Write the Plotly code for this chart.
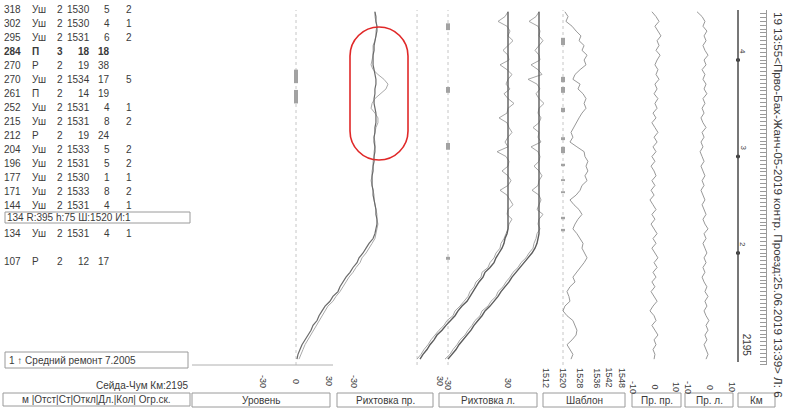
import plotly.graph_objects as go

W, H = 790, 408

# ---------------- data (distance along km 2195, metres) ----------------
dist = [350, 345, 340, 335, 330, 325, 320, 315, 310, 305,
        300, 295, 290, 285, 280, 275, 270, 265, 260, 255,
        250, 245, 240, 235, 230, 225, 220, 215, 210, 205,
        200, 195, 190, 185, 180, 175, 170, 165, 160, 155,
        150, 145, 140, 135, 130, 125, 120, 115, 110, 105,
        100, 95, 90, 85, 80, 75, 70, 65, 60, 55,
        50, 45, 40, 35, 30, 25, 20, 15, 10, 5,
        0, -5, -10]

# Рихтовка пр. (mm): main pass and repeated pass
riht_pr_main = [-15.4, -14.7, -14.7, -14.0, -14.0, -14.7, -15.4, -16.0, -16.0, -16.7,
                -16.7, -16.7, -16.0, -15.4, -14.7, -14.7, -15.4, -15.4, -16.0, -16.0,
                -15.4, -14.7, -14.7, -14.7, -15.4, -15.4, -16.0, -16.0, -15.4, -15.4,
                -16.0, -16.0, -16.7, -16.7, -17.4, -17.4, -17.4, -16.7, -16.7, -16.0,
                -15.4, -14.7, -14.7, -14.0, -14.0, -14.7, -15.4, -16.7, -19.5, -21.6,
                -23.7, -26.5, -27.9, -30.7, -32.8, -35.6, -37.7, -39.8, -41.2, -44.7,
                -46.8, -50.2, -52.3, -54.4, -55.8, -58.6, -60.0, -62.1, -64.2, -66.3,
                -67.7, -69.1, -69.8]
riht_pr_rep = [-15.4, -15.4, -14.7, -14.0, -14.7, -14.7, -15.4, -16.7, -16.7, -16.7,
               -17.4, -18.1, -16.7, -13.3, -9.1, -6.3, -7.7, -11.9, -15.4, -17.4,
               -18.1, -15.4, -13.3, -13.3, -14.7, -15.4, -16.0, -15.4, -15.4, -16.0,
               -16.0, -16.7, -16.7, -17.4, -17.4, -18.1, -17.4, -16.7, -16.0, -16.0,
               -15.4, -14.7, -14.0, -14.0, -13.3, -14.0, -14.7, -15.4, -17.4, -19.5,
               -21.6, -24.4, -25.8, -28.6, -30.7, -33.5, -35.6, -37.7, -39.8, -42.6,
               -44.7, -48.2, -50.2, -52.3, -54.4, -56.5, -57.9, -60.0, -62.1, -64.2,
               -65.6, -67.0, -68.4]

# Рихтовка л. (mm): two lines, each main + raw
riht_l1_main = [30, 30, 30, 30, 30, 30, 30, 30, 30, 30,
                30, 30, 30, 30, 30, 30, 30, 30, 30, 30,
                30, 30, 30, 30, 30, 30, 30, 30, 30, 30,
                30, 30, 30, 30, 30, 30, 30, 30, 30, 30,
                30, 30, 30, 30, 30, 30, 29, 27, 26, 24,
                21, 18, 16, 12, 7, 5, 1, -2, -5, -8,
                -11, -16, -20, -23, -28, -32, -36, -41, -44, -48,
                -51, -55, -58]
riht_l1_rep = [30, 27, 20, 29, 32, 30, 35, 30, 25, 30,
               31, 22, 29, 34, 30, 28, 32, 26, 30, 36,
               30, 29, 21, 29, 31, 34, 30, 27, 30, 19,
               28, 31, 30, 24, 30, 33, 30, 22, 29, 32,
               35, 30, 29, 34, 31, 30, 28, 26, 23, 22,
               18, 16, 12, 10, 4, 3, -2, -4, -8, -10,
               -14, -18, -23, -25, -31, -34, -39, -43, -47, -50,
               -54, -57, -61]
riht_l2_main = [61, 61, 61, 61, 61, 61, 61, 61, 61, 61,
                61, 61, 61, 61, 61, 61, 61, 61, 61, 61,
                61, 61, 61, 61, 61, 61, 61, 61, 61, 61,
                61, 61, 61, 61, 61, 61, 61, 61, 61, 61,
                61, 61, 61, 61, 61, 61, 61, 60, 59, 57,
                54, 50, 46, 42, 38, 34, 31, 27, 23, 20,
                16, 12, 7, 4, 0, -4, -7, -11, -15, -19,
                -22, -26, -30]
riht_l2_rep = [61, 58, 51, 60, 62, 61, 65, 61, 57, 61,
               62, 53, 60, 64, 50, 59, 62, 58, 61, 66,
               61, 60, 63, 61, 55, 61, 60, 63, 53, 60,
               62, 61, 56, 61, 64, 61, 60, 54, 61, 63,
               61, 59, 65, 61, 60, 62, 59, 58, 56, 55,
               51, 48, 43, 40, 35, 32, 28, 25, 20, 18,
               13, 10, 4, 2, -3, -6, -10, -13, -18, -21,
               -25, -28, -33]

# Шаблон (mm)
shablon = [1520.9, 1522.4, 1521.4, 1524.3, 1526.2, 1528.5, 1527.6, 1530.0, 1529.0, 1531.4,
           1530.0, 1530.9, 1528.1, 1525.7, 1524.7, 1528.1, 1527.1, 1529.5, 1530.9, 1530.0,
           1530.9, 1529.0, 1527.6, 1526.2, 1525.2, 1523.8, 1524.7, 1523.3, 1526.6, 1530.0,
           1530.4, 1531.8, 1530.9, 1531.8, 1530.4, 1531.4, 1529.0, 1528.1, 1526.2, 1523.3,
           1525.2, 1527.6, 1529.0, 1527.1, 1525.7, 1524.7, 1526.6, 1528.1, 1529.5, 1529.0,
           1530.4, 1531.4, 1530.0, 1528.1, 1526.2, 1524.7, 1525.7, 1523.3, 1521.9, 1522.8,
           1523.3, 1520.9, 1520.0, 1521.9, 1524.7, 1525.7, 1526.6, 1526.2, 1524.3, 1521.9,
           1523.3, 1524.7, 1523.8]

# Просадки пр. / л. (mm)
pr_pr = [-1.2, 0.7, 2.1, 0.2, 1.6, 3.0, 1.2, 2.1, 0.7, 2.6,
         1.2, 0.2, 1.6, 0.7, 2.1, 0.2, 1.2, -0.2, 1.6, 0.2,
         1.2, -0.7, 0.7, -1.2, 0.2, 1.6, -0.2, 1.2, -0.7, 0.7,
         -1.2, 0.2, -1.6, -0.2, 0.7, -1.2, 0.2, -1.6, -0.2, -2.1,
         -0.7, 0.7, -1.2, 0.2, -1.6, -0.2, 1.2, -0.7, 0.7, -1.2,
         0.2, 1.6, -0.2, 1.2, -0.7, 0.7, -1.2, 0.2, -1.6, -0.2,
         1.2, -0.7, -2.1, -0.2, 0.7, -1.2, 0.2, 1.6, -0.2, 0.7,
         -0.7, 0.2, -0.2]
pr_l = [-5.9, -3.6, -2.3, -3.2, -1.4, -2.7, -1.8, -3.2, -2.3, -0.9,
        -2.7, -1.8, -3.6, -2.3, -3.2, -1.8, -2.7, -1.4, -3.2, -2.3,
        -3.6, -2.7, -4.1, -3.2, -1.8, -3.6, -2.7, -4.1, -3.2, -4.5,
        -3.6, -2.7, -4.1, -3.2, -2.3, -3.6, -2.7, -4.1, -3.2, -2.3,
        -3.6, -2.7, -1.8, -3.2, -2.3, -0.9, -2.7, -1.8, -3.2, -2.3,
        -1.4, -2.7, -1.8, -3.2, -2.3, -3.6, -2.7, -1.4, -2.3, -0.9,
        -2.3, -1.4, -2.7, -1.8, -0.5, -1.8, -0.9, -2.3, -1.4, -2.7,
        -1.8, -0.9, -1.8]

# fault sections drawn on the reference lines (start m, end m)
uroven_marks = [(276, 290), (255, 269)]
riht_marks = [(331, 338), (266, 272), (207, 214), (93, 96)]
shablon_marks = [(315.5, 323), (277, 282.5), (266, 272), (246, 250.5), (217, 220),
                 (203.5, 210), (190, 192.5), (174.5, 176.5), (162, 164), (135, 137.5),
                 (122.5, 125)]

# kilometre posts
picket_m = [300, 200, 100]
picket_lbl = ["4", "3", "2"]

# table of faults
tab_m = ["318", "302", "295", "284", "270", "270", "261", "252", "215", "212", "204",
         "196", "177", "171", "144", "134", "107"]
tab_type = ["Уш", "Уш", "Уш", "П", "Р", "Уш", "П", "Уш", "Уш", "Р", "Уш",
            "Уш", "Уш", "Уш", "Уш", "Уш", "Р"]
tab_st = ["2", "2", "2", "3", "2", "2", "2", "2", "2", "2", "2", "2", "2", "2", "2", "2", "2"]
tab_otkl = ["1530", "1530", "1531", "18", "19", "1534", "14", "1531", "1531", "19", "1533",
            "1531", "1530", "1533", "1531", "1531", "12"]
tab_dl = ["5", "4", "6", "18", "38", "17", "19", "4", "8", "24", "5", "5", "1", "8", "4", "4", "17"]
tab_kol = ["2", "1", "2", "", "", "5", "", "1", "2", "", "2", "2", "1", "2", "1", "1", ""]
tab_bold = [False, False, False, True] + [False] * 13
curve_info = "134 R:395 h:75 Ш:1520 И:1"

uroven_ticks = [-30, 0, 30]
riht_pr_ticks = [-30, 30]
riht_l_ticks = [-30, 30]
shablon_ticks = [1512, 1520, 1528, 1536, 1542, 1548]
pr_ticks = [-10, 0, 10]

# ---------------- layout helpers ----------------
def PX(x):
    return x / W


def PY(y):
    return 1 - y / H


PLOT_L, PLOT_R, PLOT_T, PLOT_B = 190, 742, 10, 365
KM200_PX, PX_PER_M = 156.5, 0.965


def d_of(y):
    return 200 - (y - KM200_PX) / PX_PER_M


def rng(zero_px, s, zero_val=0.0):
    return [zero_val + (PLOT_L - zero_px) / s, zero_val + (PLOT_R - zero_px) / s]


FONT = "Liberation Sans"
TXT = "#3a3a3a"

fig = go.Figure()


def add_line(x, ax, color, width, y=dist):
    fig.add_trace(go.Scatter(x=x, y=y, xaxis=ax, yaxis="y", mode="lines",
                             line=dict(color=color, width=width), hoverinfo="skip"))


def add_marks(intervals, value, ax):
    xs, ys = [], []
    for a, b in intervals:
        xs += [value, value, None]
        ys += [a, b, None]
    fig.add_trace(go.Scatter(x=xs, y=ys, xaxis=ax, yaxis="y", mode="lines",
                             line=dict(color="#a2a2a2", width=4), hoverinfo="skip"))


add_marks(uroven_marks, 0, "x")
add_marks(riht_marks, -30, "x3")
add_marks(shablon_marks, 1520, "x4")

add_line(riht_pr_rep, "x2", "#a9a9a9", 1.0)
add_line(riht_pr_main, "x2", "#6a6a6a", 1.2)
add_line(riht_l1_rep, "x3", "#9c9c9c", 0.9)
add_line(riht_l1_main, "x3", "#5c5c5c", 1.4)
add_line(riht_l2_rep, "x3", "#9c9c9c", 0.9)
add_line(riht_l2_main, "x3", "#5c5c5c", 1.4)
add_line(shablon, "x4", "#8c8c8c", 0.9)
add_line(pr_pr, "x5", "#8c8c8c", 0.9)
add_line(pr_l, "x6", "#8c8c8c", 0.9)

fig.add_trace(go.Scatter(x=[0] * len(picket_m), y=picket_m, xaxis="x7", yaxis="y",
                         mode="markers", marker=dict(size=4, color="#222"), hoverinfo="skip"))

# ---------------- axes ----------------
base_ax = dict(visible=False, fixedrange=True)
layout_axes = {
    "xaxis": dict(base_ax, domain=[PX(PLOT_L), PX(PLOT_R)], range=rng(296, 1.1), anchor="y"),
    "xaxis2": dict(base_ax, overlaying="x", range=rng(397, 1.433), anchor="y"),
    "xaxis3": dict(base_ax, overlaying="x", range=rng(478, 1.0), anchor="y"),
    "xaxis4": dict(base_ax, overlaying="x", range=rng(563, 2.11, 1520), anchor="y"),
    "xaxis5": dict(base_ax, overlaying="x", range=rng(654.5, 2.15), anchor="y"),
    "xaxis6": dict(base_ax, overlaying="x", range=rng(710, 2.2), anchor="y"),
    "xaxis7": dict(base_ax, overlaying="x", range=rng(738, 1.0), anchor="y"),
}

shapes = []
# reference lines
for ax, v in (("x", 0), ("x2", 14), ("x3", -30), ("x4", 1520)):
    shapes.append(dict(type="line", xref=ax, yref="paper", x0=v, x1=v,
                       y0=PY(PLOT_B), y1=PY(PLOT_T),
                       line=dict(color="#c6c6c6", width=1, dash="dot"), layer="below"))
# km line
shapes.append(dict(type="line", xref="x7", yref="paper", x0=0, x1=0, y0=PY(362), y1=PY(PLOT_T),
                   line=dict(color="#555", width=1.6)))
# bottom rule of graph area
shapes.append(dict(type="line", xref="paper", yref="paper", x0=PX(192), x1=PX(333),
                   y0=PY(365), y1=PY(365), line=dict(color="#b0b0b0", width=1)))


def box(x0, y0, x1, y1, color="#9a9a9a"):
    shapes.append(dict(type="rect", xref="paper", yref="paper", x0=PX(x0), x1=PX(x1),
                       y0=PY(y1), y1=PY(y0), line=dict(color=color, width=1)))


box(5, 212, 190, 223)
box(5, 352, 188, 368)
box(3, 393, 190, 406)
panel_boxes = [(192, 330, "Уровень"), (337, 433, "Рихтовка пр."), (439, 537, "Рихтовка л."),
               (543, 625, "Шаблон"), (632, 681, "Пр. пр."), (685, 733, "Пр. л."), (738, 775, "Км")]
for x0, x1, _ in panel_boxes:
    box(x0, 393, x1, 407)

# red highlight (stadium)
x0, x1, y0, y1 = 350, 408, 27, 160
r = (x1 - x0) / 2
k = 0.5523 * r
xc = (x0 + x1) / 2


def P(x, y):
    return f"{PX(x):.5f},{PY(y):.5f}"


path = (f"M {P(x0, y0 + r)} L {P(x0, y1 - r)} "
        f"C {P(x0, y1 - r + k)} {P(xc - k, y1)} {P(xc, y1)} "
        f"C {P(xc + k, y1)} {P(x1, y1 - r + k)} {P(x1, y1 - r)} "
        f"L {P(x1, y0 + r)} "
        f"C {P(x1, y0 + r - k)} {P(xc + k, y0)} {P(xc, y0)} "
        f"C {P(xc - k, y0)} {P(x0, y0 + r - k)} {P(x0, y0 + r)} Z")
shapes.append(dict(type="path", xref="paper", yref="paper", path=path,
                   line=dict(color="#e02828", width=1.6)))

# ---------------- text ----------------
ann = []


def text(x, y, s, anchor="left", size=10, angle=0, xref="paper", yref="paper", color=TXT, **kw):
    ann.append(dict(x=x, y=y, xref=xref, yref=yref, text=s, showarrow=False,
                    xanchor=anchor, yanchor="middle", textangle=angle, borderpad=0,
                    font=dict(family=FONT, size=size, color=color), **kw))


row_y = [9, 23.5, 37.5, 51.5, 65.5, 79.5, 93.5, 107.5, 121.5, 135.5, 149.5,
         163.5, 177.5, 191.5, 205.5, 233, 261]
for i in range(len(tab_m)):
    b = (lambda s: f"<b>{s}</b>") if tab_bold[i] else (lambda s: s)
    y = PY(row_y[i])
    text(PX(22), y, b(tab_m[i]), "right")
    text(PX(31), y, b(tab_type[i]), "left")
    text(PX(60), y, b(tab_st[i]), "center")
    text(PX(91), y, b(tab_otkl[i]), "right")
    text(PX(111), y, b(tab_dl[i]), "right")
    if tab_kol[i]:
        text(PX(133), y, b(tab_kol[i]), "right")

text(PX(6), PY(217.5), curve_info, "left")
text(PX(8), PY(360), "1 \u2191 Средний ремонт 7.2005", "left")
text(PX(189), PY(385), "Сейда-Чум Км:2195", "right")
text(PX(96.5), PY(399.5), "м |Отст|Ст|Откл|Дл.|Кол| Огр.ск.", "center")
for x0b, x1b, lbl in panel_boxes:
    text(PX((x0b + x1b) / 2), PY(400), lbl, "center")

for ax, ticks, yc in (("x", uroven_ticks, 381), ("x2", riht_pr_ticks, 381),
                      ("x3", riht_l_ticks, 383), ("x4", shablon_ticks, 378),
                      ("x5", pr_ticks, 387), ("x6", pr_ticks, 387)):
    for t in ticks:
        text(t, PY(yc), str(t), "center", size=9, angle=90, xref=ax)

for m, lbl in zip(picket_m, picket_lbl):
    text(0, m, lbl, "center", size=8, angle=90, xref="x7", yref="y", xshift=5, yshift=9)
text(0, 5, "2195", "center", size=10, angle=90, xref="x7", yref="y", xshift=8)

text(PX(779), PY(205),
     "19 13:55<Прво-Бах-Жанч-05-2019 контр. Проезд:25.06.2019 13:39> Л: 6",
     "center", size=11.6, angle=90)

fig.update_layout(
    width=W, height=H, margin=dict(l=0, r=0, t=0, b=0),
    paper_bgcolor="white", plot_bgcolor="white", showlegend=False,
    yaxis=dict(domain=[PY(PLOT_B), PY(PLOT_T)], range=[d_of(PLOT_B), d_of(PLOT_T)],
               anchor="free", position=PX(766), side="left", showline=True,
               linecolor="#9a9a9a", ticks="outside", ticklen=6, tickcolor="#9a9a9a",
               dtick=4, tick0=0, showticklabels=False, showgrid=False, zeroline=False,
               fixedrange=True),
    shapes=shapes, annotations=ann,
    **layout_axes,
)

fig.write_html("out.html", config={"displayModeBar": False},
               post_script="document.body.style.margin='0';document.body.style.overflow='hidden';")
